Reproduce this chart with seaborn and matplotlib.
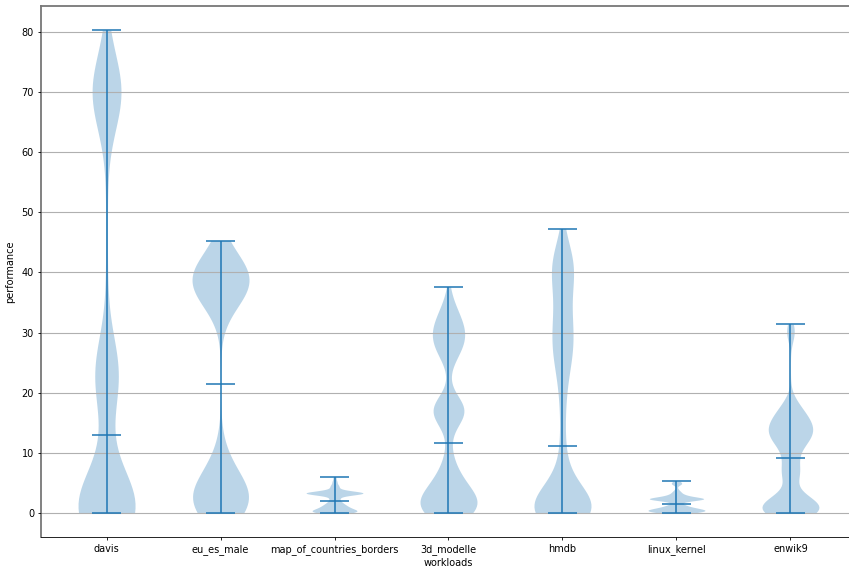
import numpy as np
import pandas as pd
import matplotlib
matplotlib.use("Agg")
import matplotlib.pyplot as plt
import seaborn as sns

# Benchmark workloads (x axis order)
workloads = ["davis", "eu_es_male", "map_of_countries_borders", "3d_modelle",
             "hmdb", "linux_kernel", "enwik9"]

# Measured performance per workload: observed values and how often each occurred
davis_values = [0.0, 1.0, 2.5, 5.0, 8.0, 11.0, 13.0, 18.0, 23.0, 28.0, 38.0, 48.0, 56.0,
                64.0, 70.0, 76.0, 80.3]
davis_counts = [45, 30, 12, 6, 4, 2, 2, 5, 30, 6, 2, 2, 1, 6, 40, 6, 1]

eu_es_male_values = [0.0, 1.2, 2.4, 3.6, 4.8, 6.0, 7.5, 9.0, 10.5, 12.8,
                     30.0, 34.0, 36.0, 38.0, 40.0, 42.0, 43.5, 45.3]
eu_es_male_counts = [20, 18, 16, 14, 11, 8, 6, 4, 2, 1,
                     1, 6, 18, 30, 25, 15, 4, 1]

map_values = [0.0, 0.3, 0.6, 0.9, 1.2, 1.5, 1.8, 2.05,
              2.4, 2.8, 3.15, 3.3, 3.45, 3.9, 4.5, 5.2, 5.94]
map_counts = [12, 16, 10, 8, 7, 5, 4, 2,
              4, 3, 8, 24, 8, 5, 5, 3, 2]

modelle_values = [0.0, 1.0, 2.0, 3.0, 4.5, 6.0, 7.5, 9.0, 10.5, 11.7,
                  16.3, 17.0, 17.7, 26.0, 27.5, 29.0, 30.5, 32.0, 33.5, 35.0, 37.6]
modelle_counts = [22, 18, 16, 13, 11, 8, 5, 2, 1, 2,
                  8, 22, 8, 6, 10, 13, 11, 9, 6, 3, 1]

hmdb_values = [0.0, 1.0, 2.0, 3.5, 5.0, 7.0, 9.0, 10.3, 11.1,
               12.0, 14.0, 16.0, 18.0, 20.0, 22.0, 24.0, 26.0, 28.0, 30.0, 32.0,
               34.0, 36.0, 38.0, 40.0, 42.0, 44.0, 46.0, 47.3]
hmdb_counts = [57, 32, 20, 13, 9, 6, 3, 1, 2,
               2, 2, 3, 3, 4, 5, 7, 12, 12, 12, 11,
               8, 8, 11, 14, 16, 8, 2, 1]

linux_values = [0.0, 0.35, 0.65, 0.95, 1.25, 1.55,
                2.0, 2.3, 2.6, 3.0, 3.5, 4.0, 4.85, 5.27]
linux_counts = [9, 16, 10, 6, 4, 2,
                4, 18, 8, 5, 3, 1, 4, 2]

enwik9_values = [0.0, 0.8, 1.6, 2.4, 3.2, 5.5, 6.5, 7.5, 8.5, 9.2,
                 10.0, 11.0, 12.0, 13.0, 14.0, 15.0, 16.0, 17.0, 18.0, 19.0,
                 29.5, 30.5, 31.4]
enwik9_counts = [22, 12, 12, 9, 3, 4, 6, 4, 3, 2,
                 3, 5, 9, 11, 11, 10, 8, 6, 4, 2,
                 3, 3, 1]

series = [
    (davis_values, davis_counts),
    (eu_es_male_values, eu_es_male_counts),
    (map_values, map_counts),
    (modelle_values, modelle_counts),
    (hmdb_values, hmdb_counts),
    (linux_values, linux_counts),
    (enwik9_values, enwik9_counts),
]

samples = {name: np.repeat(np.asarray(v, float), c) for name, (v, c) in zip(workloads, series)}
df = pd.DataFrame({
    "workloads": np.concatenate([[n] * len(samples[n]) for n in workloads]),
    "performance": np.concatenate([samples[n] for n in workloads]),
})

sns.set_style("white", {"text.color": "black", "axes.labelcolor": "black",
                        "xtick.color": "black", "ytick.color": "black"})
plt.rcParams["font.family"] = ["DejaVu Sans"]
plt.rcParams["font.size"] = 7

blue = "#1f77b4"

fig = plt.figure(figsize=(8.49, 5.72), dpi=100)
ax = fig.add_axes([41 / 849, 35 / 572, 815 / 849, 531 / 572])

sns.violinplot(data=df, x="workloads", y="performance", order=workloads,
               bw_method=0.2, cut=0, gridsize=100, density_norm="width",
               width=0.5, inner=None, color=blue, saturation=1,
               alpha=0.3, linewidth=0, ax=ax)

# extrema and median markers
for i, name in enumerate(workloads):
    v = samples[name]
    lo, hi, med = v.min(), v.max(), np.median(v)
    ax.vlines(i, lo, hi, color=blue, lw=1.1, zorder=3)
    ax.hlines([lo, hi, med], i - 0.125, i + 0.125, color=blue, lw=1.1, zorder=3)

top = df["performance"].max()
ax.set_ylim(-0.05 * top, 1.05 * top)
ax.set_xlim(-0.575, 6.575)
ax.set_yticks(np.arange(0, 81, 10))

ax.yaxis.grid(True, color="#b0b0b0", lw=0.8)
ax.xaxis.grid(False)
ax.set_axisbelow(False)

for side in ("top", "left"):
    ax.spines[side].set_color("#777777")
    ax.spines[side].set_linewidth(1.3)
ax.spines["bottom"].set_color("black")
ax.spines["bottom"].set_linewidth(0.6)
ax.spines["right"].set_visible(False)

ax.tick_params(axis="both", which="major", length=2.5, width=0.6, pad=2.5,
               labelsize=7, color="black", labelcolor="black", bottom=True, left=True)
ax.set_xlabel("workloads", fontsize=7, labelpad=2, color="black")
ax.set_ylabel("performance", fontsize=7, labelpad=5, color="black")

fig.savefig("out.png", dpi=100)
